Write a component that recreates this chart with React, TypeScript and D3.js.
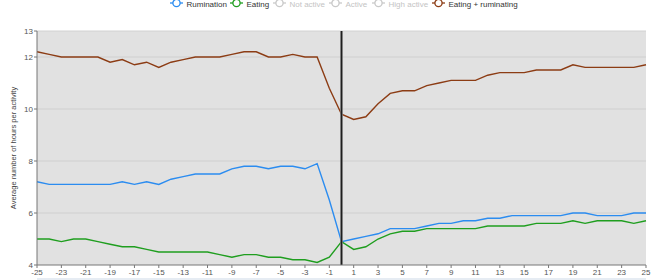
import React from "react";
import * as d3 from "d3";

const days: number[] = d3.range(-25, 26);
const rumination: number[] = [
  7.2, 7.1, 7.1, 7.1, 7.1, 7.1, 7.1, 7.2, 7.1, 7.2, 7.1, 7.3, 7.4, 7.5, 7.5, 7.5, 7.7, 7.8, 7.8, 7.7, 7.8, 7.8, 7.7, 7.9, 6.5,
  4.9,
  5.0, 5.1, 5.2, 5.4, 5.4, 5.4, 5.5, 5.6, 5.6, 5.7, 5.7, 5.8, 5.8, 5.9, 5.9, 5.9, 5.9, 5.9, 6.0, 6.0, 5.9, 5.9, 5.9, 6.0, 6.0,
];
const eating: number[] = [
  5.0, 5.0, 4.9, 5.0, 5.0, 4.9, 4.8, 4.7, 4.7, 4.6, 4.5, 4.5, 4.5, 4.5, 4.5, 4.4, 4.3, 4.4, 4.4, 4.3, 4.3, 4.2, 4.2, 4.1, 4.3,
  4.9,
  4.6, 4.7, 5.0, 5.2, 5.3, 5.3, 5.4, 5.4, 5.4, 5.4, 5.4, 5.5, 5.5, 5.5, 5.5, 5.6, 5.6, 5.6, 5.7, 5.6, 5.7, 5.7, 5.7, 5.6, 5.7,
];
const eatingRuminating: number[] = [
  12.2, 12.1, 12.0, 12.0, 12.0, 12.0, 11.8, 11.9, 11.7, 11.8, 11.6, 11.8, 11.9, 12.0, 12.0, 12.0, 12.1, 12.2, 12.2, 12.0, 12.0, 12.1, 12.0, 12.0, 10.8,
  9.8,
  9.6, 9.7, 10.2, 10.6, 10.7, 10.7, 10.9, 11.0, 11.1, 11.1, 11.1, 11.3, 11.4, 11.4, 11.4, 11.5, 11.5, 11.5, 11.7, 11.6, 11.6, 11.6, 11.6, 11.6, 11.7,
];
const xTicks: number[] = [-25, -23, -21, -19, -17, -15, -13, -11, -9, -7, -5, -3, -1, 1, 3, 5, 7, 9, 11, 13, 15, 17, 19, 21, 23, 25];
const yTicks: number[] = [4, 6, 8, 10, 12, 13];
const gridValues: number[] = [6, 8, 10, 12];
const legendNames: string[] = ["Rumination", "Eating", "Not active", "Active", "High active", "Eating + ruminating"];
const legendColors: string[] = ["#2b8cf0", "#1f9e1f", "#c9c9c9", "#c9c9c9", "#c9c9c9", "#8c3c14"];
const legendActive: boolean[] = [true, true, false, false, false, true];
const legendX: number[] = [170, 230, 273, 329, 372, 432];

const W = 668;
const H = 280;
const L = 37;
const R = 646;
const T = 31;
const B = 265;
const FONT = "'Liberation Sans', Arial, sans-serif";

export default function App() {
  const x = d3.scaleLinear().domain([-25, 25]).range([L, R]);
  const y = d3.scaleLinear().domain([4, 13]).range([B, T]);
  const line = (vals: number[]) =>
    d3
      .line<number>()
      .x((_, i) => x(days[i]))
      .y((d) => y(d))(vals) || "";

  const series = [
    { vals: eatingRuminating, color: "#8c3c14" },
    { vals: rumination, color: "#2b8cf0" },
    { vals: eating, color: "#1f9e1f" },
  ];

  return (
    <svg
      width={W}
      height={H}
      style={{ position: "absolute", left: 0, top: 0, fontFamily: FONT }}
    >
      <rect x={0} y={0} width={W} height={H} fill="#ffffff" />
      {/* legend */}
      {legendNames.map((name, i) => (
        <g key={name}>
          <line x1={legendX[i]} x2={legendX[i] + 13} y1={3} y2={3} stroke={legendColors[i]} strokeWidth={1.3} />
          <circle cx={legendX[i] + 6.5} cy={3} r={3.6} fill="#fff" stroke={legendColors[i]} strokeWidth={1.3} />
          <text
            x={legendX[i] + 16.5}
            y={6.5}
            fontSize={8}
            fill={legendActive[i] ? "#333" : "#c4c4c4"}
          >
            {name}
          </text>
        </g>
      ))}
      {/* plot area */}
      <rect x={L} y={T} width={R - L} height={B - T} fill="#e1e1e1" />
      <line x1={L} x2={R} y1={T} y2={T} stroke="#d2d2d2" strokeWidth={1} />
      {gridValues.map((v) => (
        <line key={v} x1={L} x2={R} y1={y(v)} y2={y(v)} stroke="#cfcfcf" strokeWidth={1} />
      ))}
      {/* series */}
      {series.map((s, i) => (
        <path key={i} d={line(s.vals)} fill="none" stroke={s.color} strokeWidth={1.4} />
      ))}
      {/* day 0 line */}
      <line x1={x(0)} x2={x(0)} y1={T} y2={B} stroke="#777" strokeWidth={2.6} />
      <line x1={x(0)} x2={x(0)} y1={T} y2={B} stroke="#1e1e1e" strokeWidth={1.2} />
      {/* y axis */}
      <line x1={L} x2={L} y1={T} y2={B} stroke="#777" strokeWidth={1} />
      {yTicks.map((v) => (
        <g key={v}>
          <line x1={L - 3} x2={L} y1={y(v)} y2={y(v)} stroke="#777" />
          <text x={L - 4} y={y(v) + 3} fontSize={8} fill="#555" textAnchor="end">
            {v}
          </text>
        </g>
      ))}
      <text
        transform={`translate(15.5,${148}) rotate(-90)`}
        fontSize={7.5}
        fill="#444"
        textAnchor="middle"
      >
        Average number of hours per activity
      </text>
      {/* x axis */}
      <line x1={L} x2={R} y1={B} y2={B} stroke="#777" strokeWidth={1} />
      {xTicks.map((v) => (
        <g key={v}>
          <line x1={x(v)} x2={x(v)} y1={B} y2={B + 3} stroke="#777" />
          <text x={x(v)} y={B + 10} fontSize={8} fill="#555" textAnchor="middle">
            {v}
          </text>
        </g>
      ))}
      <rect x={L} y={278} width={R - L} height={2} fill="#e6ecf3" />
    </svg>
  );
}
